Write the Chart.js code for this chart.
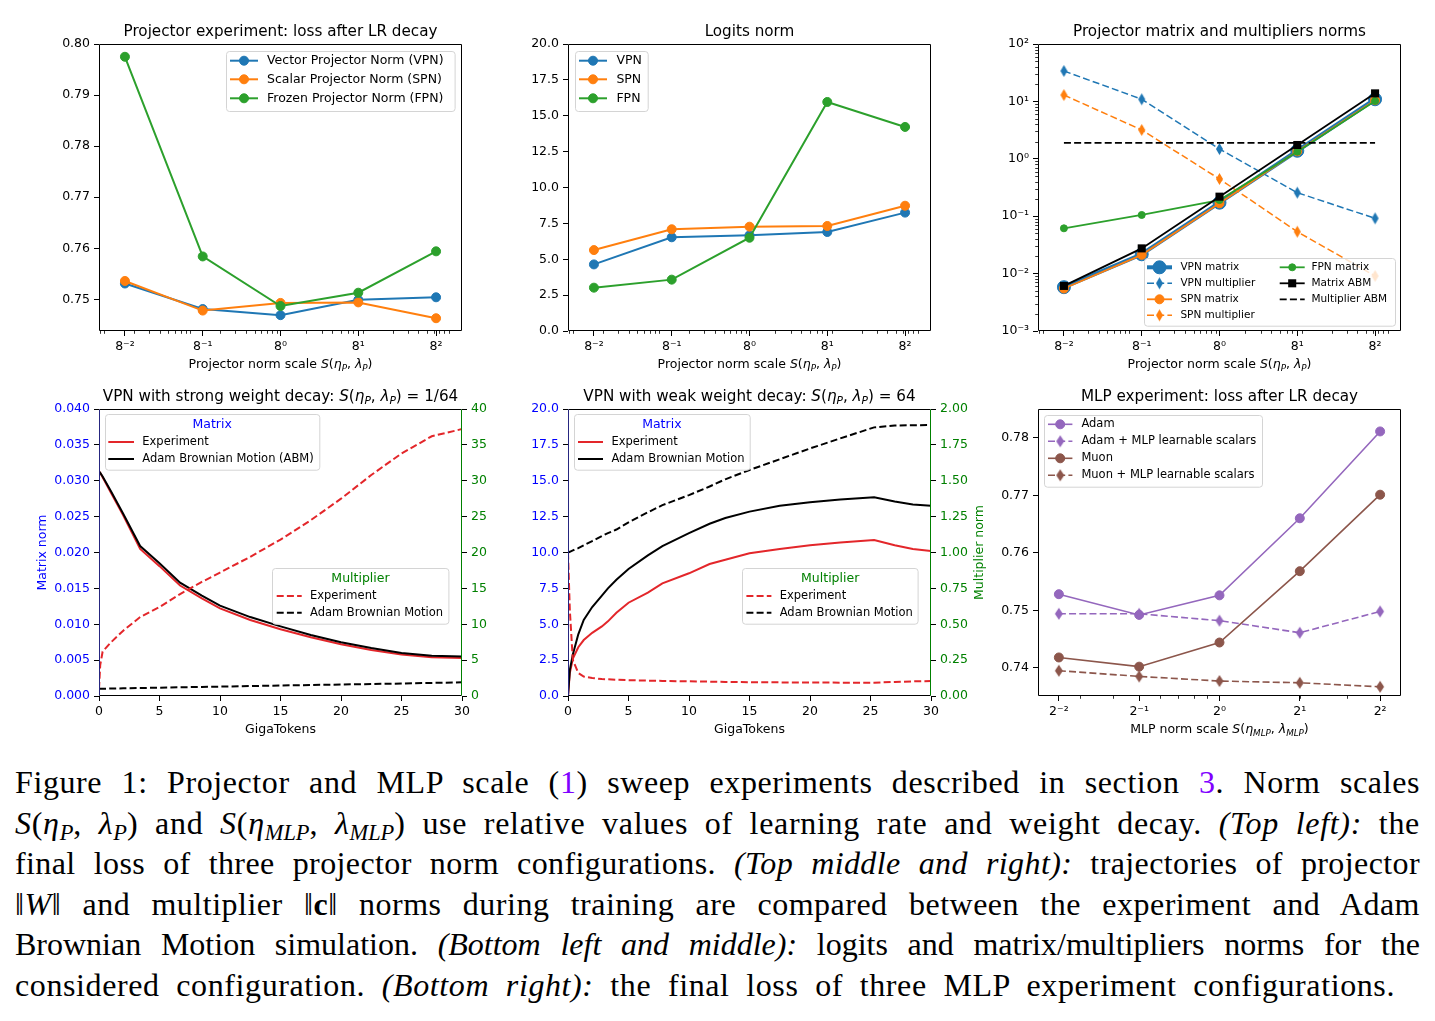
<!DOCTYPE html>
<html>
<head>
<meta charset="utf-8">
<title>Figure 1</title>
<script src="https://cdn.jsdelivr.net/npm/chart.js@4.4.1/dist/chart.umd.min.js"></script>
<style>
  html, body { margin: 0; padding: 0; background: #fff; }
  body { position: relative; width: 1435px; height: 1021px; overflow: hidden; }
  canvas.panel { position: absolute; }
  .caption { position: absolute; left: 15px; top: 762px; width: 1405px; font-family: "Liberation Serif", "DejaVu Serif", serif; font-size: 32px; line-height: 40.6px; color: #000; }
  .caption .ln { text-align: justify; text-align-last: justify; white-space: nowrap; height: 40.6px; }
  .caption .l1 { letter-spacing: 0.6px; }
  .caption .l2 { letter-spacing: 0.7px; }
  .caption .l3 { letter-spacing: 0.4px; }
  .caption .l4 { letter-spacing: 0.5px; }
  .caption .l5 { letter-spacing: 0px; }
  .caption .l6 { letter-spacing: 0.6px; padding-right: 25px; }
  .caption sub { font-size: 0.7em; vertical-align: -0.25em; line-height: 0; letter-spacing: 0; }
  .ref { color: #8000ff; }
</style>
</head>
<body>
<canvas id="tl" class="panel" width="493" height="367" style="left:29px;top:14px"></canvas>
<canvas id="tm" class="panel" width="493" height="367" style="left:498px;top:14px"></canvas>
<canvas id="tr" class="panel" width="493" height="367" style="left:968px;top:14px"></canvas>
<canvas id="bl" class="panel" width="493" height="367" style="left:29px;top:379px"></canvas>
<canvas id="bm" class="panel" width="493" height="367" style="left:498px;top:379px"></canvas>
<canvas id="br" class="panel" width="493" height="367" style="left:968px;top:379px"></canvas>

<div class="caption">
  <div class="ln l1">Figure 1: Projector and MLP scale (<span class="ref">1</span>) sweep experiments described in section <span class="ref">3</span>. Norm scales</div>
  <div class="ln l2"><i>S</i>(<i>η</i><sub><i>P</i></sub>, <i>λ</i><sub><i>P</i></sub>) and <i>S</i>(<i>η</i><sub><i>MLP</i></sub>, <i>λ</i><sub><i>MLP</i></sub>) use relative values of learning rate and weight decay. <i>(Top left):</i> the</div>
  <div class="ln l3">final loss of three projector norm configurations. <i>(Top middle and right):</i> trajectories of projector</div>
  <div class="ln l4">‖<i>W</i>‖ and multiplier ‖<b>c</b>‖ norms during training are compared between the experiment and Adam</div>
  <div class="ln l5">Brownian Motion simulation. <i>(Bottom left and middle):</i> logits and matrix/multipliers norms for the</div>
  <div class="ln l6">considered configuration. <i>(Bottom right):</i> the final loss of three MLP experiment configurations.</div>
</div>

<script>
// ---- top row: projector norm sweep ----
const projScales = [1 / 64, 1 / 8, 1, 8, 64];
const projTickLabels = ['8⁻²', '8⁻¹', '8⁰', '8¹', '8²'];

const lossVPN = [0.7531, 0.7481, 0.7469, 0.7499, 0.7504];
const lossSPN = [0.7536, 0.7478, 0.7493, 0.7494, 0.7463];
const lossFPN = [0.7975, 0.7584, 0.7487, 0.7513, 0.7594];
const lossTicks = [0.75, 0.76, 0.77, 0.78, 0.79, 0.80];
const lossTickLabels = ['0.75', '0.76', '0.77', '0.78', '0.79', '0.80'];

const logitsVPN = [4.64, 6.53, 6.67, 6.90, 8.25];
const logitsSPN = [5.64, 7.09, 7.27, 7.32, 8.73];
const logitsFPN = [3.02, 3.58, 6.50, 15.96, 14.22];
const logitsTicks = [0, 2.5, 5, 7.5, 10, 12.5, 15, 17.5, 20];
const logitsTickLabels = ['0.0', '2.5', '5.0', '7.5', '10.0', '12.5', '15.0', '17.5', '20.0'];

const vpnMatrix = [0.0058, 0.0217, 0.172, 1.38, 10.9];
const vpnMult = [33.9, 10.9, 1.48, 0.257, 0.0918];
const spnMatrix = [0.0055, 0.0212, 0.168, 1.35, 10.5];
const spnMult = [12.9, 3.18, 0.445, 0.0537, 0.0091];
const fpnMatrix = [0.0615, 0.105, 0.191, 1.33, 10.2];
const abmMatrix = [0.0061, 0.0275, 0.219, 1.74, 13.8];
const abmMult = [1.9, 1.9, 1.9, 1.9, 1.9];
const normTicks = [1e-3, 1e-2, 1e-1, 1, 10, 100];
const normTickLabels = ['10⁻³', '10⁻²', '10⁻¹', '10⁰', '10¹', '10²'];

// ---- bottom left: strong weight decay ----
const strongTokens = [0, 0.1, 0.3, 1, 2, 3.4, 5, 6.7, 8.5, 10, 12.5, 15, 17.5, 20, 22.5, 25, 27.5, 30];
const strongMatrixExp = [0.0313, 0.0311, 0.0305, 0.0283, 0.0252, 0.0205, 0.0181, 0.0154, 0.0136, 0.0122, 0.0106, 0.0093, 0.0082, 0.0072, 0.0064, 0.0058, 0.0054, 0.0053];
const strongMatrixABM = [0.0313, 0.0311, 0.0306, 0.0285, 0.0254, 0.0209, 0.0185, 0.0158, 0.0140, 0.0126, 0.0110, 0.0097, 0.0085, 0.0075, 0.0067, 0.0060, 0.0056, 0.0055];
const strongMultExp = [1.0, 4.3, 6.2, 7.5, 9.1, 11.0, 12.4, 14.2, 15.9, 17.2, 19.4, 21.8, 24.5, 27.5, 30.8, 33.8, 36.2, 37.2];
const strongMultABM = [1.0, 1.0, 1.01, 1.04, 1.07, 1.11, 1.16, 1.21, 1.27, 1.31, 1.39, 1.46, 1.53, 1.60, 1.67, 1.74, 1.82, 1.90];

// ---- bottom middle: weak weight decay ----
const weakTokens = [0, 0.15, 0.4, 0.85, 1.3, 2, 2.8, 3.3, 4, 5, 6.6, 7.8, 10, 11.7, 13, 15, 17.5, 20, 22.5, 25.3, 27, 28.5, 30];
const weakMatrixExp = [0, 1.6, 2.6, 3.4, 3.9, 4.4, 4.85, 5.2, 5.8, 6.5, 7.2, 7.85, 8.55, 9.2, 9.5, 9.95, 10.25, 10.5, 10.7, 10.87, 10.5, 10.25, 10.1];
const weakMatrixABM = [0, 1.8, 2.9, 4.3, 5.3, 6.2, 7.0, 7.5, 8.1, 8.85, 9.8, 10.45, 11.35, 12.0, 12.4, 12.85, 13.25, 13.5, 13.7, 13.85, 13.55, 13.35, 13.25];
const weakMultExp = [1.0, 0.6, 0.25, 0.16, 0.135, 0.125, 0.118, 0.116, 0.113, 0.11, 0.107, 0.105, 0.102, 0.1, 0.098, 0.096, 0.095, 0.094, 0.093, 0.093, 0.098, 0.102, 0.104];
const weakMultABM = [1.0, 1.005, 1.015, 1.03, 1.05, 1.08, 1.115, 1.135, 1.16, 1.21, 1.28, 1.33, 1.40, 1.46, 1.51, 1.575, 1.65, 1.725, 1.795, 1.872, 1.885, 1.887, 1.888];

const tokenTicks = [0, 5, 10, 15, 20, 25, 30];
const tokenTickLabels = ['0', '5', '10', '15', '20', '25', '30'];
const strongMatTicks = [0, 0.005, 0.01, 0.015, 0.02, 0.025, 0.03, 0.035, 0.04];
const strongMatLabels = ['0.000', '0.005', '0.010', '0.015', '0.020', '0.025', '0.030', '0.035', '0.040'];
const strongMulTicks = [0, 5, 10, 15, 20, 25, 30, 35, 40];
const strongMulLabels = ['0', '5', '10', '15', '20', '25', '30', '35', '40'];
const weakMulTicks = [0, 0.25, 0.5, 0.75, 1, 1.25, 1.5, 1.75, 2];
const weakMulLabels = ['0.00', '0.25', '0.50', '0.75', '1.00', '1.25', '1.50', '1.75', '2.00'];

// ---- bottom right: MLP sweep ----
const mlpScales = [0.25, 0.5, 1, 2, 4];
const mlpTickLabels = ['2⁻²', '2⁻¹', '2⁰', '2¹', '2²'];
const adamLoss = [0.7528, 0.7492, 0.7526, 0.7660, 0.7811];
const adamScalarsLoss = [0.7494, 0.7494, 0.7482, 0.7461, 0.7498];
const muonLoss = [0.7418, 0.7402, 0.7444, 0.7568, 0.7701];
const muonScalarsLoss = [0.7395, 0.7385, 0.7377, 0.7374, 0.7367];
const mlpLossTicks = [0.74, 0.75, 0.76, 0.77, 0.78];
const mlpLossLabels = ['0.74', '0.75', '0.76', '0.77', '0.78'];

// minor ticks of the log axes (base-10 locator)
const minorSubs = [2, 3, 4, 5, 6, 7, 8, 9];
const minorDecades = [1e-3, 1e-2, 1e-1, 1, 10, 100];
const logMinors = minorDecades.flatMap(d => minorSubs.map(k => k * d));

const C = {
  blue: '#1f77b4', orange: '#ff7f0e', green: '#2ca02c', purple: '#9467bd',
  brown: '#8c564b', red: '#e3262a', black: '#000000'
};
const DASH = [7, 3.2];
const LPAD = 70, RPAD = 60, TPAD = 30, BPAD = 50;
const FONT = '"DejaVu Sans"';

Chart.defaults.font.family = '"DejaVu Sans", sans-serif';

function thinDiamond(color, w, h) {
  const c = document.createElement('canvas');
  c.width = w + 2; c.height = h + 2;
  const g = c.getContext('2d');
  g.fillStyle = color;
  g.beginPath();
  g.moveTo(c.width / 2, 1);
  g.lineTo(c.width - 1, c.height / 2);
  g.lineTo(c.width / 2, c.height - 1);
  g.lineTo(1, c.height / 2);
  g.closePath();
  g.fill();
  return c;
}

function series(label, xs, ys, o) {
  return Object.assign({
    label,
    data: xs.map((x, i) => ({ x, y: ys[i] })),
    borderColor: o.color, backgroundColor: o.color,
    borderWidth: 2, borderDash: [],
    pointRadius: 0, pointStyle: 'circle', pointBorderWidth: 1,
    pointBackgroundColor: o.color, pointBorderColor: o.color,
    pointHoverRadius: 0, tension: 0, fill: false
  }, o);
}

function axis(o) {
  const horiz = !o.position || o.position === 'bottom';
  return {
    type: o.type || 'linear',
    position: o.position || 'bottom',
    min: o.min, max: o.max, bounds: 'data',
    afterFit: s => { if (horiz) s.height = BPAD; else s.width = o.position === 'right' ? RPAD : LPAD; },
    afterBuildTicks: s => { s.ticks = o.ticks.map(v => ({ value: v })); },
    ticks: {
      autoSkip: false, maxRotation: 0, minRotation: 0,
      padding: horiz ? 3 : 4, color: o.color || '#000',
      font: { size: 12.5 },
      callback: (v, i) => o.labels[i]
    },
    grid: { display: true, drawOnChartArea: false, drawTicks: true, tickLength: 5, tickWidth: 1, tickColor: '#000' },
    border: { display: false }
  };
}

function drawRich(ctx, segs, x, y, size, color, rot) {
  const parts = segs.map(([t, s]) => {
    const small = s === 'sub' || s === 'sup';
    const font = (s ? 'italic ' : '') + (small ? size * 0.7 : size) + 'px ' + FONT;
    ctx.font = font;
    return { t, font, w: ctx.measureText(t).width, dy: s === 'sub' ? size * 0.2 : (s === 'sup' ? -size * 0.4 : 0) };
  });
  const total = parts.reduce((acc, p) => acc + p.w, 0);
  ctx.save();
  ctx.translate(x, y);
  if (rot) ctx.rotate(rot);
  ctx.fillStyle = color || '#000';
  ctx.textAlign = 'left';
  ctx.textBaseline = 'alphabetic';
  let cx = -total / 2;
  parts.forEach(p => { ctx.font = p.font; ctx.fillText(p.t, cx, p.dy); cx += p.w; });
  ctx.restore();
}

function drawMarker(ctx, ds, x, y) {
  const st = ds.pointStyle, r = ds.pointRadius;
  if (st instanceof HTMLCanvasElement) { ctx.drawImage(st, x - st.width / 2, y - st.height / 2); return; }
  ctx.fillStyle = ds.pointBackgroundColor;
  ctx.strokeStyle = ds.pointBorderColor;
  ctx.lineWidth = ds.pointBorderWidth;
  ctx.setLineDash([]);
  ctx.beginPath();
  if (st === 'rect') { const s = r * Math.SQRT1_2; ctx.rect(x - s, y - s, 2 * s, 2 * s); }
  else ctx.arc(x, y, r, 0, Math.PI * 2);
  ctx.fill();
  if (ds.pointBorderWidth) ctx.stroke();
}

function roundRect(ctx, x, y, w, h, r) {
  ctx.beginPath();
  ctx.moveTo(x + r, y);
  ctx.arcTo(x + w, y, x + w, y + h, r);
  ctx.arcTo(x + w, y + h, x, y + h, r);
  ctx.arcTo(x, y + h, x, y, r);
  ctx.arcTo(x, y, x + w, y, r);
  ctx.closePath();
}

function drawLegend(chart, lg) {
  const ctx = chart.ctx, a = chart.chartArea;
  ctx.save();
  roundRect(ctx, Math.round(a.left + lg.x) + 0.5, Math.round(a.top + lg.y) + 0.5, lg.w, lg.h, 3);
  ctx.fillStyle = 'rgba(255,255,255,0.8)';
  ctx.fill();
  ctx.strokeStyle = '#d4d4d4';
  ctx.lineWidth = 1;
  ctx.stroke();
  if (lg.title) {
    ctx.font = lg.titleSize + 'px ' + FONT;
    ctx.fillStyle = lg.titleColor;
    ctx.textAlign = 'center';
    ctx.textBaseline = 'middle';
    ctx.fillText(lg.title, a.left + lg.x + lg.w / 2, a.top + lg.titleY);
  }
  lg.items.forEach(([di, c, r]) => {
    const ds = chart.data.datasets[di];
    const yy = a.top + lg.rows[r];
    const hx0 = a.left + lg.cols[c].hx, hx1 = hx0 + lg.hl;
    ctx.strokeStyle = ds.borderColor;
    ctx.lineWidth = ds.borderWidth;
    ctx.lineCap = 'butt';
    ctx.setLineDash(ds.borderDash || []);
    ctx.beginPath();
    ctx.moveTo(hx0, yy);
    ctx.lineTo(hx1, yy);
    ctx.stroke();
    ctx.setLineDash([]);
    if (ds.pointRadius > 0) drawMarker(ctx, ds, (hx0 + hx1) / 2, yy);
    ctx.fillStyle = '#000';
    ctx.font = lg.size + 'px ' + FONT;
    ctx.textAlign = 'left';
    ctx.textBaseline = 'middle';
    ctx.fillText(ds.label, a.left + lg.cols[c].tx, yy);
  });
  ctx.restore();
}

const decor = {};

const mplPlugin = {
  id: 'mplDecor',
  afterDatasetsDraw(chart) {
    const d = decor[chart.canvas.id];
    if (!d) return;
    const ctx = chart.ctx, a = chart.chartArea;
    ctx.save();
    // minor ticks
    (d.minor || []).forEach(m => {
      const sc = chart.scales[m.axis];
      ctx.strokeStyle = '#000';
      ctx.lineWidth = 0.8;
      m.values.forEach(v => {
        if (v < sc.min || v > sc.max) return;
        const p = Math.round(sc.getPixelForValue(v)) + 0.5;
        ctx.beginPath();
        if (sc.isHorizontal()) { ctx.moveTo(p, a.bottom); ctx.lineTo(p, a.bottom + 2.8); }
        else { ctx.moveTo(a.left, p); ctx.lineTo(a.left - 2.8, p); }
        ctx.stroke();
      });
    });
    // spines
    const sp = d.spines || {};
    const L = Math.round(a.left) + 0.5, R = Math.round(a.right) - 0.5;
    const T = Math.round(a.top) + 0.5, B = Math.round(a.bottom) - 0.5;
    ctx.lineWidth = 1;
    [['top', L, T, R, T], ['bottom', L, B, R, B], ['left', L, T, L, B], ['right', R, T, R, B]].forEach(([k, x1, y1, x2, y2]) => {
      ctx.strokeStyle = sp[k] || '#000';
      ctx.beginPath();
      ctx.moveTo(x1, y1);
      ctx.lineTo(x2, y2);
      ctx.stroke();
    });
    ctx.restore();
    (d.legends || []).forEach(lg => drawLegend(chart, lg));
  },
  afterDraw(chart) {
    const d = decor[chart.canvas.id];
    if (!d) return;
    const ctx = chart.ctx, a = chart.chartArea;
    const cx = (a.left + a.right) / 2, cy = (a.top + a.bottom) / 2;
    drawRich(ctx, d.title, cx, a.top - 8.5, 15.2, '#000');
    drawRich(ctx, d.xlabel, cx, a.bottom + 37, 12.5, '#000');
    if (d.ylabel) drawRich(ctx, d.ylabel.segs, a.left - 53, cy, 12.5, d.ylabel.color, -Math.PI / 2);
    if (d.y1label) drawRich(ctx, d.y1label.segs, a.right + 51.5, cy, 12.5, d.y1label.color, -Math.PI / 2);
  }
};

function makeChart(id, datasets, scales) {
  datasets.forEach((ds, i) => { ds.order = -i; });
  return new Chart(document.getElementById(id), {
    type: 'line',
    data: { datasets },
    options: {
      responsive: false, animation: false, devicePixelRatio: 1,
      layout: { padding: { top: TPAD, left: 0, right: scales.y1 ? 0 : RPAD, bottom: 0 } },
      scales,
      plugins: { legend: { display: false }, tooltip: { enabled: false }, title: { display: false } },
      events: []
    },
    plugins: [mplPlugin]
  });
}

const projXLabel = [['Projector norm scale ', ''], ['S', 'i'], ['(', ''], ['η', 'i'], ['P', 'sub'], [', ', ''], ['λ', 'i'], ['P', 'sub'], [')', '']];
const mlpXLabel = [['MLP norm scale ', ''], ['S', 'i'], ['(', ''], ['η', 'i'], ['MLP', 'sub'], [', ', ''], ['λ', 'i'], ['MLP', 'sub'], [')', '']];
const projX = () => axis({ type: 'logarithmic', min: 1 / 128, max: 128, ticks: projScales, labels: projTickLabels });

// ---------- top left ----------
decor.tl = {
  title: [['Projector experiment: loss after LR decay', '']],
  xlabel: projXLabel,
  minor: [{ axis: 'x', values: logMinors }],
  legends: [{
    x: 126.7, y: 6.7, w: 228.6, h: 60, size: 12.5, hl: 28,
    rows: [16.7, 35.3, 54.3], cols: [{ hx: 131, tx: 168 }],
    items: [[0, 0, 0], [1, 0, 1], [2, 0, 2]]
  }]
};
makeChart('tl', [
  series('Vector Projector Norm (VPN)', projScales, lossVPN, { color: C.blue, pointRadius: 4.5 }),
  series('Scalar Projector Norm (SPN)', projScales, lossSPN, { color: C.orange, pointRadius: 4.5 }),
  series('Frozen Projector Norm (FPN)', projScales, lossFPN, { color: C.green, pointRadius: 4.5 })
], {
  x: projX(),
  y: axis({ position: 'left', min: 0.7438, max: 0.8, ticks: lossTicks, labels: lossTickLabels })
});

// ---------- top middle ----------
decor.tm = {
  title: [['Logits norm', '']],
  xlabel: projXLabel,
  minor: [{ axis: 'x', values: logMinors }],
  legends: [{
    x: 6.7, y: 6.7, w: 72.7, h: 60, size: 12.5, hl: 28,
    rows: [16.7, 35.3, 54.3], cols: [{ hx: 11, tx: 48.4 }],
    items: [[0, 0, 0], [1, 0, 1], [2, 0, 2]]
  }]
};
makeChart('tm', [
  series('VPN', projScales, logitsVPN, { color: C.blue, pointRadius: 4.5 }),
  series('SPN', projScales, logitsSPN, { color: C.orange, pointRadius: 4.5 }),
  series('FPN', projScales, logitsFPN, { color: C.green, pointRadius: 4.5 })
], {
  x: projX(),
  y: axis({ position: 'left', min: 0, max: 20, ticks: logitsTicks, labels: logitsTickLabels })
});

// ---------- top right ----------
decor.tr = {
  title: [['Projector matrix and multipliers norms', '']],
  xlabel: projXLabel,
  minor: [{ axis: 'x', values: logMinors }, { axis: 'y', values: logMinors }],
  legends: [{
    x: 105.7, y: 214.3, w: 251, h: 67.7, size: 10.5, hl: 25,
    rows: [223.3, 239.3, 255.3, 271.3], cols: [{ hx: 109, tx: 142.4 }, { hx: 241.7, tx: 273.4 }],
    items: [[0, 0, 0], [1, 0, 1], [2, 0, 2], [3, 0, 3], [4, 1, 0], [5, 1, 1], [6, 1, 2]]
  }]
};
makeChart('tr', [
  series('VPN matrix', projScales, vpnMatrix, { color: C.blue, borderWidth: 4, pointRadius: 6.5 }),
  series('VPN multiplier', projScales, vpnMult, { color: C.blue, borderWidth: 1.5, borderDash: DASH, pointRadius: 5, pointStyle: thinDiamond(C.blue, 7, 12) }),
  series('SPN matrix', projScales, spnMatrix, { color: C.orange, borderWidth: 1.8, pointRadius: 4.5 }),
  series('SPN multiplier', projScales, spnMult, { color: C.orange, borderWidth: 1.5, borderDash: DASH, pointRadius: 5, pointStyle: thinDiamond(C.orange, 7, 12) }),
  series('FPN matrix', projScales, fpnMatrix, { color: C.green, borderWidth: 1.8, pointRadius: 3.5 }),
  series('Matrix ABM', projScales, abmMatrix, { color: C.black, borderWidth: 1.8, pointRadius: 5.7, pointStyle: 'rect', pointBorderWidth: 0 }),
  series('Multiplier ABM', projScales, abmMult, { color: C.black, borderWidth: 1.8, borderDash: DASH })
], {
  x: projX(),
  y: axis({ type: 'logarithmic', position: 'left', min: 1e-3, max: 100, ticks: normTicks, labels: normTickLabels })
});

// ---------- bottom left ----------
decor.bl = {
  title: [['VPN with strong weight decay: ', ''], ['S', 'i'], ['(', ''], ['η', 'i'], ['P', 'sub'], [', ', ''], ['λ', 'i'], ['P', 'sub'], [') = 1/64', '']],
  xlabel: [['GigaTokens', '']],
  ylabel: { segs: [['Matrix norm', '']], color: '#0000ff' },
  spines: { left: '#262680', right: '#008000' },
  legends: [{
    x: 6, y: 5.3, w: 214.3, h: 55.7, size: 11.5, hl: 25.7,
    title: 'Matrix', titleColor: '#0000ff', titleSize: 12.5, titleY: 15.3,
    rows: [33, 50], cols: [{ hx: 9.3, tx: 43.3 }],
    items: [[0, 0, 0], [1, 0, 1]]
  }, {
    x: 173.3, y: 159.3, w: 176.4, h: 55.7, size: 11.5, hl: 25,
    title: 'Multiplier', titleColor: '#008000', titleSize: 12.5, titleY: 169.3,
    rows: [187, 203.7], cols: [{ hx: 177.7, tx: 211 }],
    items: [[2, 0, 0], [3, 0, 1]]
  }]
};
makeChart('bl', [
  series('Experiment', strongTokens, strongMatrixExp, { color: C.red, yAxisID: 'y' }),
  series('Adam Brownian Motion (ABM)', strongTokens, strongMatrixABM, { color: C.black, yAxisID: 'y' }),
  series('Experiment', strongTokens, strongMultExp, { color: C.red, borderDash: DASH, yAxisID: 'y1' }),
  series('Adam Brownian Motion', strongTokens, strongMultABM, { color: C.black, borderDash: DASH, yAxisID: 'y1' })
], {
  x: axis({ min: 0, max: 30, ticks: tokenTicks, labels: tokenTickLabels }),
  y: axis({ position: 'left', min: 0, max: 0.04, ticks: strongMatTicks, labels: strongMatLabels, color: '#0000ff' }),
  y1: axis({ position: 'right', min: 0, max: 40, ticks: strongMulTicks, labels: strongMulLabels, color: '#008000' })
});

// ---------- bottom middle ----------
decor.bm = {
  title: [['VPN with weak weight decay: ', ''], ['S', 'i'], ['(', ''], ['η', 'i'], ['P', 'sub'], [', ', ''], ['λ', 'i'], ['P', 'sub'], [') = 64', '']],
  xlabel: [['GigaTokens', '']],
  y1label: { segs: [['Multiplier norm', '']], color: '#008000' },
  spines: { left: '#262680', right: '#008000' },
  legends: [{
    x: 6, y: 5.3, w: 175.7, h: 55.7, size: 11.5, hl: 25,
    title: 'Matrix', titleColor: '#0000ff', titleSize: 12.5, titleY: 15.3,
    rows: [33, 50], cols: [{ hx: 10, tx: 43.4 }],
    items: [[0, 0, 0], [1, 0, 1]]
  }, {
    x: 174.4, y: 159.3, w: 175.6, h: 55.7, size: 11.5, hl: 25,
    title: 'Multiplier', titleColor: '#008000', titleSize: 12.5, titleY: 169.3,
    rows: [187, 203.7], cols: [{ hx: 178.4, tx: 211.7 }],
    items: [[2, 0, 0], [3, 0, 1]]
  }]
};
makeChart('bm', [
  series('Experiment', weakTokens, weakMatrixExp, { color: C.red, yAxisID: 'y' }),
  series('Adam Brownian Motion', weakTokens, weakMatrixABM, { color: C.black, yAxisID: 'y' }),
  series('Experiment', weakTokens, weakMultExp, { color: C.red, borderDash: DASH, yAxisID: 'y1' }),
  series('Adam Brownian Motion', weakTokens, weakMultABM, { color: C.black, borderDash: DASH, yAxisID: 'y1' })
], {
  x: axis({ min: 0, max: 30, ticks: tokenTicks, labels: tokenTickLabels }),
  y: axis({ position: 'left', min: 0, max: 20, ticks: logitsTicks, labels: logitsTickLabels, color: '#0000ff' }),
  y1: axis({ position: 'right', min: 0, max: 2, ticks: weakMulTicks, labels: weakMulLabels, color: '#008000' })
});

// ---------- bottom right ----------
decor.br = {
  title: [['MLP experiment: loss after LR decay', '']],
  xlabel: mlpXLabel,
  minor: [{ axis: 'x', values: logMinors }],
  legends: [{
    x: 6, y: 5.6, w: 218, h: 71.7, size: 11.5, hl: 24.4,
    rows: [15.3, 32.3, 49.3, 66.3], cols: [{ hx: 10, tx: 43.4 }],
    items: [[0, 0, 0], [1, 0, 1], [2, 0, 2], [3, 0, 3]]
  }]
};
makeChart('br', [
  series('Adam', mlpScales, adamLoss, { color: C.purple, borderWidth: 1.6, pointRadius: 4.5 }),
  series('Adam + MLP learnable scalars', mlpScales, adamScalarsLoss, { color: C.purple, borderWidth: 1.6, borderDash: DASH, pointRadius: 5, pointStyle: thinDiamond(C.purple, 8, 12) }),
  series('Muon', mlpScales, muonLoss, { color: C.brown, borderWidth: 1.6, pointRadius: 4.5 }),
  series('Muon + MLP learnable scalars', mlpScales, muonScalarsLoss, { color: C.brown, borderWidth: 1.6, borderDash: DASH, pointRadius: 5, pointStyle: thinDiamond(C.brown, 8, 12) })
], {
  x: axis({ type: 'logarithmic', min: 0.2088, max: 4.79, ticks: mlpScales, labels: mlpTickLabels }),
  y: axis({ position: 'left', min: 0.7351, max: 0.785, ticks: mlpLossTicks, labels: mlpLossLabels })
});
</script>
</body>
</html>
